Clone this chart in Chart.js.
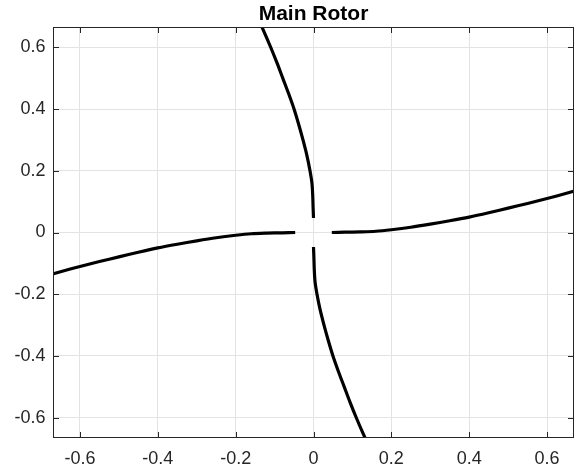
<!DOCTYPE html>
<html lang="en">
<head>
    <meta charset="UTF-8">
    <title>Main Rotor</title>
    <style>
        body {
            margin: 0;
            padding: 0;
            background: #fff;
        }
        #chart-container {
            width: 577px;
            height: 470px;
        }
    </style>
</head>
<body>
    <div id="chart-container">
        <canvas id="rotorChart"></canvas>
    </div>

    <script src="https://cdn.jsdelivr.net/npm/chart.js"></script>
    <script>
        // blade shape: distance along the blade and lag deflection
        var span = [0.047, 0.08, 0.12, 0.16, 0.20, 0.25, 0.30, 0.35, 0.40, 0.45, 0.50, 0.55, 0.60, 0.65, 0.70];
        var lag = [0.000, 0.001, 0.002, 0.004, 0.009, 0.017, 0.027, 0.038, 0.050, 0.064, 0.079, 0.094, 0.110, 0.127, 0.145];
        var tickValues = [-0.6, -0.4, -0.2, 0, 0.2, 0.4, 0.6];
        var xLimit = 0.668;
        var yLimit = 0.664;

        // four blades, 90 degrees apart
        function blade(fx, fy) {
            return span.map(function (r, i) {
                return { x: fx(r, lag[i]), y: fy(r, lag[i]) };
            });
        }
        var blades = [
            blade(function (r, d) { return r; }, function (r, d) { return d; }),
            blade(function (r, d) { return -d; }, function (r, d) { return r; }),
            blade(function (r, d) { return -r; }, function (r, d) { return -d; }),
            blade(function (r, d) { return d; }, function (r, d) { return -r; })
        ];

        var axisColor = '#262626';

        // box round the axes, inward tick marks and the title
        var axesBox = {
            id: 'axesBox',
            afterDraw: function (chart) {
                var c = chart.ctx;
                var a = chart.chartArea;
                var xs = chart.scales.x;
                var ys = chart.scales.y;
                var len = 5.5;
                c.save();
                c.strokeStyle = axisColor;
                c.lineWidth = 1;
                c.strokeRect(a.left, a.top, a.right - a.left, a.bottom - a.top);
                c.beginPath();
                tickValues.forEach(function (v) {
                    var px = Math.round(xs.getPixelForValue(v)) + 0.5;
                    c.moveTo(px, a.bottom);
                    c.lineTo(px, a.bottom - len);
                    c.moveTo(px, a.top);
                    c.lineTo(px, a.top + len);
                    var py = Math.round(ys.getPixelForValue(v)) + 0.5;
                    c.moveTo(a.left, py);
                    c.lineTo(a.left + len, py);
                    c.moveTo(a.right, py);
                    c.lineTo(a.right - len, py);
                });
                c.stroke();
                c.fillStyle = '#000';
                c.font = 'bold 21px "Liberation Sans", Arial, Helvetica, sans-serif';
                c.textAlign = 'center';
                c.textBaseline = 'middle';
                c.fillText('Main Rotor', (a.left + a.right) / 2, 14);
                c.restore();
            }
        };

        Chart.defaults.font.family = '"Liberation Sans", Arial, Helvetica, sans-serif';
        Chart.defaults.font.size = 18;
        Chart.defaults.color = axisColor;

        function axis(limit, extra) {
            var s = {
                type: 'linear',
                min: -limit,
                max: limit,
                border: { display: false },
                grid: { color: '#e3e3e3', lineWidth: 1, drawTicks: false },
                afterBuildTicks: function (scale) {
                    scale.ticks = tickValues.map(function (v) { return { value: v }; });
                },
                ticks: {
                    callback: function (v) { return String(Math.round(v * 10) / 10); }
                }
            };
            for (var k in extra) {
                s[k] = extra[k];
            }
            return s;
        }

        var ctx = document.getElementById('rotorChart').getContext('2d');
        var rotorChart = new Chart(ctx, {
            type: 'scatter',
            data: {
                datasets: blades.map(function (pts) {
                    return {
                        data: pts,
                        showLine: true,
                        borderColor: '#000',
                        borderWidth: 3.2,
                        tension: 0.3,
                        pointRadius: 0,
                        fill: false,
                        clip: 0
                    };
                })
            },
            options: {
                responsive: true,
                maintainAspectRatio: false,
                animation: false,
                layout: {
                    padding: { top: 27.5, right: 3.5, left: 0, bottom: 0 }
                },
                plugins: {
                    legend: { display: false },
                    tooltip: { enabled: false },
                    title: { display: false }
                },
                scales: {
                    x: axis(xLimit, {
                        afterFit: function (scale) { scale.height = 32.5; }
                    }),
                    y: axis(yLimit, {
                        afterFit: function (scale) { scale.width = 53.5; }
                    })
                }
            },
            plugins: [axesBox]
        });
        rotorChart.options.scales.x.ticks.padding = 11;
        rotorChart.options.scales.y.ticks.padding = 8;
        rotorChart.update();
    </script>
</body>
</html>
